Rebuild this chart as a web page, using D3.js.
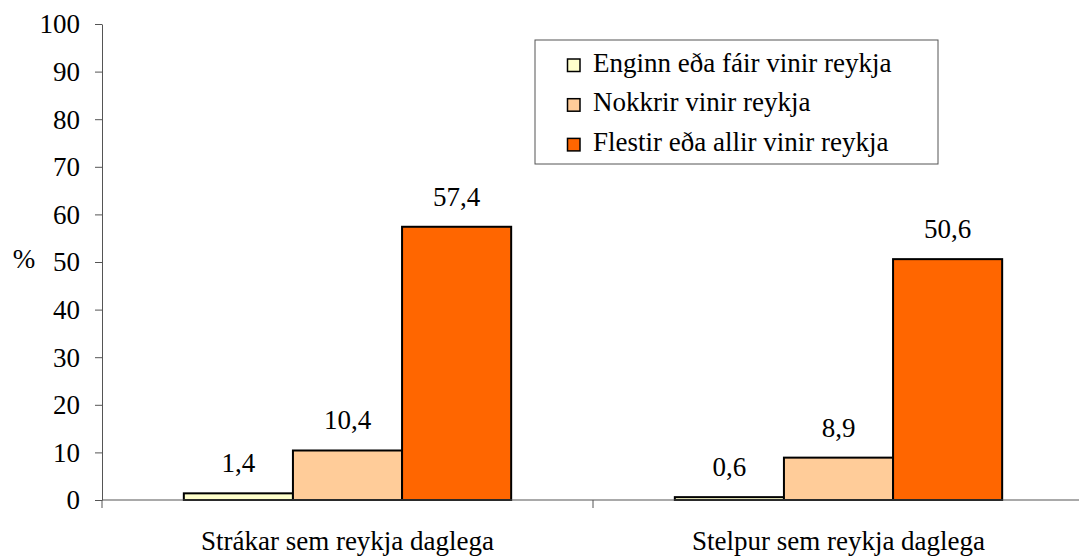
<!DOCTYPE html>
<html>
<head>
<meta charset="utf-8">
<script src="https://cdn.jsdelivr.net/npm/d3@7"></script>
</head>
<body style="margin:0">
<div id="chart"></div>
<script>
// data
const categories = ["Strákar sem reykja daglega", "Stelpur sem reykja daglega"];
const seriesNames = ["Enginn eða fáir vinir reykja", "Nokkrir vinir reykja", "Flestir eða allir vinir reykja"];
const seriesColors = ["#FFFFCC", "#FFCC99", "#FF6600"];
const enginn = [1.4, 0.6];
const nokkrir = [10.4, 8.9];
const flestir = [57.4, 50.6];
const yTicks = [0, 10, 20, 30, 40, 50, 60, 70, 80, 90, 100];

const seriesValues = [enginn, nokkrir, flestir];
const fmt = v => d3.format(".1f")(v).replace(".", ",");

const FONT = "Liberation Serif";
const FS = 27;

function serif(sel) {
    return sel.attr("font-family", FONT).attr("font-size", FS).attr("fill", "#000");
}

const width = 1079, height = 557;
const margin = { top: 24, right: -5, bottom: 57, left: 102 };

const svg = d3.select("#chart").append("svg")
    .attr("width", width)
    .attr("height", height);

const y = d3.scaleLinear()
    .domain([0, 100])
    .range([height - margin.bottom, margin.top]);

const x0 = d3.scaleBand()
    .domain(categories)
    .range([margin.left, width - margin.right])
    .paddingInner(0)
    .paddingOuter(0);

const x1 = d3.scaleBand()
    .domain(seriesNames)
    .range([0, x0.bandwidth()])
    .paddingOuter(0.75);

// y axis
const yAxis = svg.append("g")
    .attr("transform", `translate(${margin.left},0)`)
    .call(d3.axisLeft(y).tickValues(yTicks).tickSize(7).tickPadding(15).tickSizeOuter(0));
yAxis.attr("font-family", null).attr("font-size", null);
yAxis.select(".domain").attr("stroke", "#555");
yAxis.selectAll(".tick line").attr("stroke", "#555");
yAxis.selectAll(".tick text").call(serif).attr("dy", "0.33em");

svg.append("text")
    .attr("x", 24)
    .attr("y", y(50) + 6)
    .attr("text-anchor", "middle")
    .call(serif)
    .text("%");

// bars
const groups = svg.append("g")
    .selectAll("g")
    .data(categories)
    .join("g")
    .attr("transform", d => `translate(${x0(d)},0)`);

const cells = groups.selectAll("g")
    .data((c, ci) => seriesNames.map((s, si) => ({ s, si, v: seriesValues[si][ci] })))
    .join("g");

cells.append("rect")
    .attr("x", d => x1(d.s))
    .attr("y", d => y(d.v))
    .attr("width", x1.bandwidth())
    .attr("height", d => y(0) - y(d.v))
    .attr("fill", d => seriesColors[d.si])
    .attr("stroke", "#000")
    .attr("stroke-width", 2);

cells.append("text")
    .attr("x", d => x1(d.s) + x1.bandwidth() / 2)
    .attr("y", d => y(d.v) - 21)
    .attr("text-anchor", "middle")
    .call(serif)
    .text(d => fmt(d.v));

// x axis
const xAxis = svg.append("g")
    .attr("transform", `translate(0,${y(0)})`);
xAxis.append("line")
    .attr("x1", margin.left).attr("x2", width)
    .attr("stroke", "#555");
xAxis.selectAll("line.tk")
    .data(categories)
    .join("line")
    .attr("class", "tk")
    .attr("x1", d => x0(d)).attr("x2", d => x0(d))
    .attr("y1", 0).attr("y2", 8)
    .attr("stroke", "#555");
xAxis.selectAll("text")
    .data(categories)
    .join("text")
    .attr("x", d => x0(d) + x0.bandwidth() / 2)
    .attr("y", 50)
    .attr("text-anchor", "middle")
    .call(serif)
    .text(d => d);

// legend
const legend = svg.append("g").attr("transform", "translate(535,40)");
legend.append("rect")
    .attr("width", 403).attr("height", 124)
    .attr("fill", "#fff")
    .attr("stroke", "#555");
const items = legend.selectAll("g")
    .data(seriesNames)
    .join("g")
    .attr("transform", (d, i) => `translate(0,${31.5 + i * 39.7})`);
items.append("rect")
    .attr("x", 32.5).attr("y", -12.5)
    .attr("width", 12.5).attr("height", 12.5)
    .attr("fill", (d, i) => seriesColors[i])
    .attr("stroke", "#000")
    .attr("stroke-width", 1.5);
items.append("text")
    .attr("x", 58)
    .attr("y", 0)
    .call(serif)
    .text(d => d);

// force text layout now so the serif face is in use before the snapshot
svg.selectAll("text").each(function () { this.getComputedTextLength(); });
</script>
</body>
</html>
